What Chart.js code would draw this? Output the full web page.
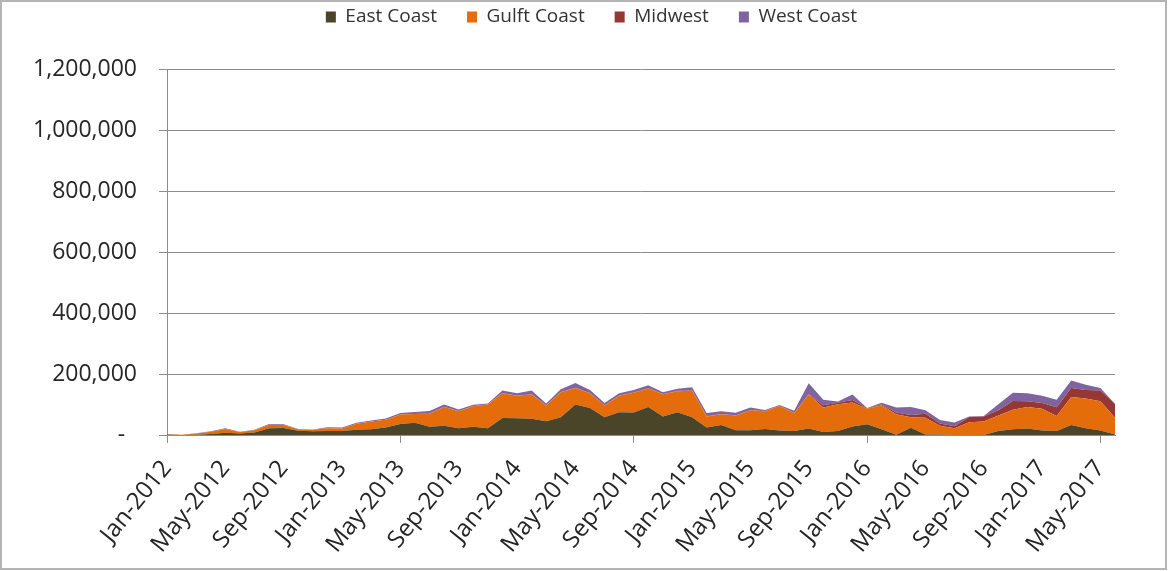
<!DOCTYPE html>
<html>
<head>
<meta charset="utf-8">
<title>Monthly volumes by region</title>
<script src="https://cdn.jsdelivr.net/npm/chart.js@4/dist/chart.umd.min.js"></script>
<style>
  html, body { margin: 0; padding: 0; background: #ffffff; }
  #wrap { position: relative; width: 1168px; height: 571px; }
  #chart { position: absolute; left: 0; top: 0; }
  #frame { position: absolute; left: 0; top: 0; width: 1167px; height: 570px;
           box-sizing: border-box; border: 2px solid #b4b4b4; pointer-events: none; }
</style>
</head>
<body>
<div id="wrap">
  <canvas id="chart" width="1168" height="571"></canvas>
  <div id="frame"></div>
</div>
<script>
// Month categories, Jan-2012 through Jun-2017
const months = [
  'Jan-2012','Feb-2012','Mar-2012','Apr-2012','May-2012','Jun-2012','Jul-2012','Aug-2012','Sep-2012','Oct-2012','Nov-2012','Dec-2012',
  'Jan-2013','Feb-2013','Mar-2013','Apr-2013','May-2013','Jun-2013','Jul-2013','Aug-2013','Sep-2013','Oct-2013','Nov-2013','Dec-2013',
  'Jan-2014','Feb-2014','Mar-2014','Apr-2014','May-2014','Jun-2014','Jul-2014','Aug-2014','Sep-2014','Oct-2014','Nov-2014','Dec-2014',
  'Jan-2015','Feb-2015','Mar-2015','Apr-2015','May-2015','Jun-2015','Jul-2015','Aug-2015','Sep-2015','Oct-2015','Nov-2015','Dec-2015',
  'Jan-2016','Feb-2016','Mar-2016','Apr-2016','May-2016','Jun-2016','Jul-2016','Aug-2016','Sep-2016','Oct-2016','Nov-2016','Dec-2016',
  'Jan-2017','Feb-2017','Mar-2017','Apr-2017','May-2017','Jun-2017'
];

// Regional series (stacked, bottom to top)
const eastCoast = [
  1000, 0, 1000, 3000, 7000, 5000, 8000, 22000, 23000, 14000, 12000, 13500,
  13500, 17000, 19000, 25000, 36000, 40000, 27000, 30000, 22000, 27000, 22000, 56000,
  55000, 53000, 45000, 58000, 100000, 89000, 58000, 75000, 74000, 92000, 61000, 75000,
  58000, 25000, 33000, 16000, 16000, 20000, 15000, 13000, 21000, 10000, 13000, 28000,
  35000, 19000, 1000, 24000, 2000, 2000, 0, 0, 0, 13000, 19000, 21000,
  15000, 13000, 33000, 22000, 15000, 2000
];
const gulfCoast = [
  1500, 500, 4000, 8000, 13000, 5000, 8000, 12000, 10000, 5000, 5000, 9000,
  8000, 20000, 25000, 25000, 31000, 29000, 43000, 62000, 56000, 67000, 78000, 81000,
  74000, 80000, 52000, 82000, 54000, 48000, 39000, 54000, 65000, 61000, 73000, 69000,
  87000, 36000, 35000, 48000, 65000, 58000, 80000, 58000, 112000, 80000, 88000, 79000,
  51000, 79000, 67000, 34000, 55000, 28000, 22000, 42000, 44000, 51000, 64000, 71000,
  71000, 49000, 92000, 98000, 96000, 55000
];
const midwest = [
  0, 0, 0, 0, 0, 0, 0, 0, 0, 0, 0, 0,
  0, 0, 0, 0, 0, 0, 1000, 1000, 1000, 1000, 1000, 1000,
  1000, 1000, 1000, 1000, 1000, 1000, 1000, 1000, 1000, 1000, 1000, 1000,
  1000, 1000, 1000, 1000, 1000, 1000, 1000, 1000, 1000, 8000, 4500, 8000,
  2000, 2000, 5600, 8000, 13000, 8000, 7000, 17000, 17000, 17000, 29000, 19000,
  19000, 29000, 29000, 28000, 35000, 45000
];
const westCoast = [
  500, 0, 1000, 1000, 2000, 1000, 1000, 2000, 2000, 1000, 1000, 3000,
  3400, 3400, 3400, 4500, 5600, 6700, 8000, 7000, 4600, 4600, 2400, 8000,
  7000, 12500, 5700, 9000, 16000, 10000, 7000, 7000, 8000, 9000, 5700, 7000,
  11000, 10000, 9000, 8000, 8000, 3000, 2400, 8000, 36000, 18000, 4500, 18000,
  1000, 5600, 17000, 26000, 11000, 11000, 12000, 2000, 1000, 20000, 27000, 26000,
  24000, 25000, 25000, 17000, 8000, 1000
];

// Value axis ticks
const yTicks = [0, 200000, 400000, 600000, 800000, 1000000, 1200000];

const seriesNames = ['East Coast', 'Gulft Coast', 'Midwest', 'West Coast'];
const seriesColors = ['#4a4429', '#e46c0a', '#953735', '#8064a2'];
const seriesData = [eastCoast, gulfCoast, midwest, westCoast];

const gridGray = '#8c8c8c';
const textColor = '#262626';

const datasets = seriesData.map((values, i) => ({
  label: seriesNames[i],
  data: values,
  backgroundColor: seriesColors[i],
  borderColor: seriesColors[i],
  borderWidth: 0,
  pointRadius: 0,
  tension: 0,
  fill: i === 0 ? 'origin' : '-1'
}));

// Moves the legend row up into the top margin and centres it over the plot
const legendPlace = {
  id: 'legendPlace',
  afterLayout(chart) {
    const lg = chart.legend;
    if (lg) {
      lg.top -= 33; lg.bottom -= 33;
      lg.left += 34; lg.right += 34;
    }
  }
};

new Chart(document.getElementById('chart'), {
  type: 'line',
  data: { labels: months, datasets },
  plugins: [legendPlace],
  options: {
    responsive: false,
    animation: false,
    layout: { padding: { top: 10.5, left: 0, right: 53, bottom: 0 } },
    plugins: {
      tooltip: { enabled: false },
      legend: {
        position: 'top',
        align: 'center',
        labels: {
          boxWidth: 10,
          boxHeight: 11,
          padding: 30,
          color: '#333333',
          font: { family: '"Open Sans"', size: 19 }
        }
      }
    },
    scales: {
      x: {
        type: 'category',
        offset: false,
        afterFit(axis) { axis.height = 136; },
        grid: {
          drawOnChartArea: false,
          drawTicks: true,
          tickLength: 8,
          color: ctx => (ctx.index % 4 === 0 ? gridGray : 'rgba(0,0,0,0)')
        },
        border: { display: true, color: gridGray, width: 1 },
        ticks: {
          autoSkip: false,
          maxRotation: 51,
          minRotation: 51,
          padding: 12,
          color: textColor,
          font: { family: '"Open Sans"', size: 24 },
          callback: (value, index) => (index % 4 === 0 ? months[index] : null)
        }
      },
      y: {
        stacked: true,
        min: yTicks[0],
        max: yTicks[yTicks.length - 1],
        afterFit(axis) { axis.width = 167; },
        afterBuildTicks(axis) { axis.ticks = yTicks.map(v => ({ value: v })); },
        grid: { color: gridGray, lineWidth: 1, drawTicks: true, tickLength: 8 },
        border: { display: true, color: gridGray, width: 1 },
        ticks: {
          padding: 22,
          color: textColor,
          font: { family: '"Open Sans"', size: 23 },
          callback: v => (v === 0 ? '-  ' : v.toLocaleString('en-US'))
        }
      }
    }
  }
});
</script>
</body>
</html>
